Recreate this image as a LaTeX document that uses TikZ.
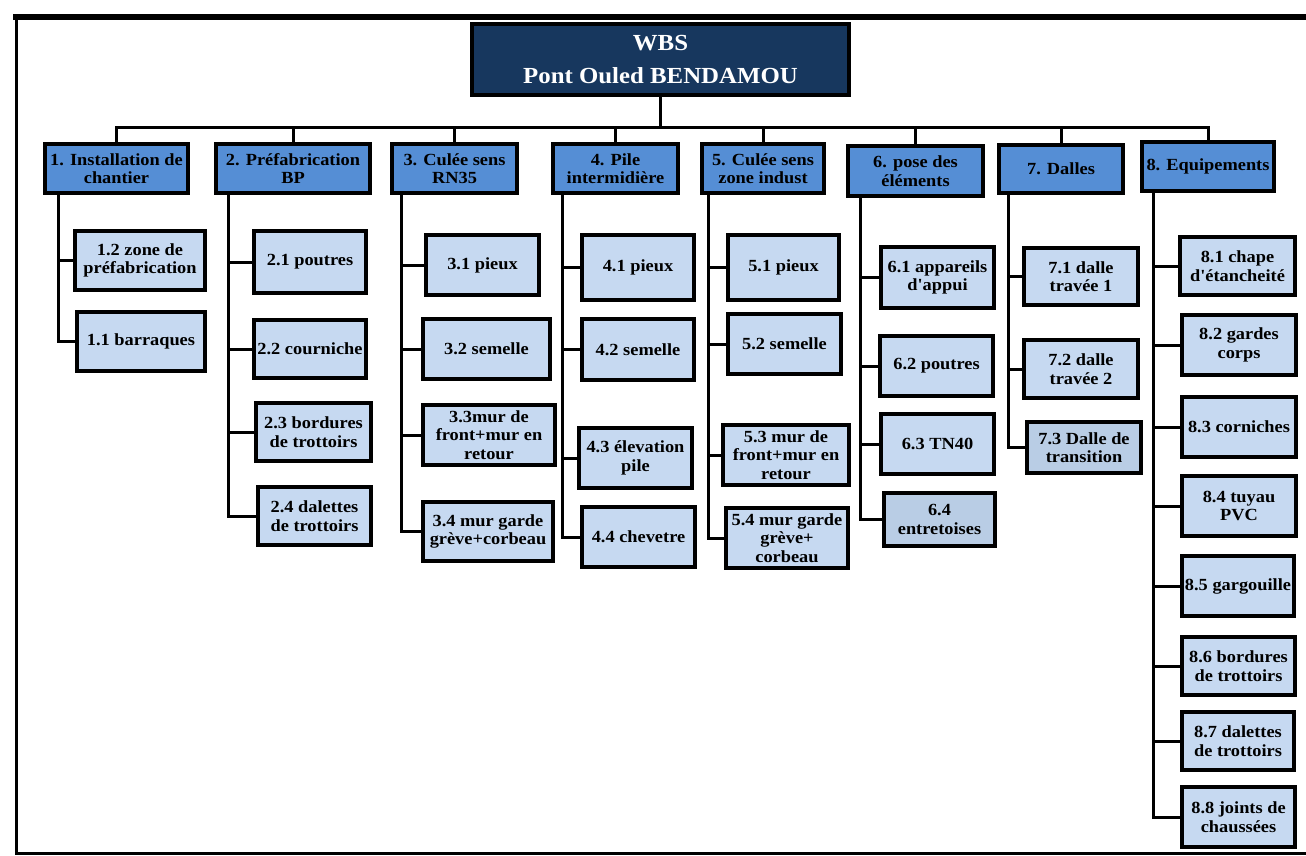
\documentclass[tikz,border=0pt]{standalone}
\usepackage{fontspec}
\usetikzlibrary{shadows}
\setmainfont{Liberation Serif}
\newfontfamily\bxfont[FakeStretch=1.08]{Liberation Serif}
\definecolor{navy}{HTML}{17375E}
\definecolor{hblue}{HTML}{558ED5}
\definecolor{lblue}{HTML}{C6D9F1}
\definecolor{mblue}{HTML}{B9CDE5}
\newcommand\bx[7]{\node[#6, minimum width={(#4-#2-4)*1pt}, minimum height={(#5-#3-4)*1pt}] (#1) at ({(#2+#4)/2},{(#3+#5)/2}) {#7};}
\begin{document}
\begin{tikzpicture}[x=1pt,y=-1pt,
  wbox/.style={draw=black,line width=4pt,inner sep=1pt,align=center,
    drop shadow={shadow xshift=2pt,shadow yshift=-2pt,fill=black!35,opacity=0.5},
    font=\bxfont\bfseries\fontsize{17}{18.5}\selectfont},
  hbox/.style={wbox,fill=hblue},
  lbox/.style={wbox,fill=lblue},
  dbox/.style={wbox,fill=mblue},
  rootbox/.style={wbox,fill=navy,text=white,font=\bxfont\bfseries\fontsize{23}{33}\selectfont},
  link/.style={line width=3pt}]
\useasboundingbox (0,0) rectangle (1306,856);
% frame
\draw[line width=6.5pt] (13,17) -- (1306,17);
\draw[line width=3pt] (16,17) -- (16,853) -- (1306,853);
% root
\bx{wbs}{470}{22}{851}{97}{rootbox}{WBS\\Pont Ouled BENDAMOU}
% headers
\bx{h1}{43}{142}{190}{195}{hbox}{1. Installation de\\chantier}
\bx{h2}{214}{142}{372}{195}{hbox}{2. Préfabrication\\BP}
\bx{h3}{390}{142}{519}{195}{hbox}{3. Culée sens\\RN35}
\bx{h4}{551}{142}{680}{195}{hbox}{4. Pile\\intermidière}
\bx{h5}{700}{142}{826}{195}{hbox}{5. Culée sens\\zone indust}
\bx{h6}{846}{144}{985}{198}{hbox}{6. pose des\\éléments}
\bx{h7}{997}{143}{1125}{195}{hbox}{7. Dalles}
\bx{h8}{1140}{140}{1276}{193}{hbox}{8. Equipements}
% bus
\foreach \h in {h1,h2,h3,h4,h5,h6,h7,h8}
  \draw[link] (wbs.south) -- ++(0,31) -| (\h.north);
% leaves
\bx{c11}{73}{229}{207}{292}{lbox}{1.2 zone de\\préfabrication}
\bx{c12}{75}{310}{207}{373}{lbox}{1.1 barraques}
\bx{c21}{252}{229}{368}{295}{lbox}{2.1 poutres}
\bx{c22}{252}{318}{368}{380}{lbox}{2.2 courniche}
\bx{c23}{254}{401}{373}{463}{lbox}{2.3 bordures\\de trottoirs}
\bx{c24}{256}{485}{373}{547}{lbox}{2.4 dalettes\\de trottoirs}
\bx{c31}{424}{233}{541}{297}{lbox}{3.1 pieux}
\bx{c32}{421}{317}{552}{381}{lbox}{3.2 semelle}
\bx{c33}{421}{403}{557}{467}{lbox}{3.3mur de\\front+mur en\\retour}
\bx{c34}{421}{500}{555}{563}{lbox}{3.4 mur garde\\grève+corbeau}
\bx{c41}{580}{233}{696}{302}{lbox}{4.1 pieux}
\bx{c42}{580}{317}{696}{382}{lbox}{4.2 semelle}
\bx{c43}{577}{426}{694}{490}{lbox}{4.3 élevation\\pile}
\bx{c44}{580}{505}{697}{569}{lbox}{4.4 chevetre}
\bx{c51}{726}{233}{841}{302}{lbox}{5.1 pieux}
\bx{c52}{726}{312}{843}{376}{lbox}{5.2 semelle}
\bx{c53}{721}{423}{851}{487}{lbox}{5.3 mur de\\front+mur en\\retour}
\bx{c54}{724}{506}{850}{570}{lbox}{5.4 mur garde\\grève+\\corbeau}
\bx{c61}{879}{245}{996}{310}{lbox}{6.1 appareils\\d'appui}
\bx{c62}{878}{334}{995}{398}{lbox}{6.2 poutres}
\bx{c63}{879}{412}{996}{476}{lbox}{6.3 TN40}
\bx{c64}{882}{491}{997}{548}{dbox}{6.4\\entretoises}
\bx{c71}{1022}{246}{1140}{307}{lbox}{7.1 dalle\\travée 1}
\bx{c72}{1022}{338}{1140}{400}{lbox}{7.2 dalle\\travée 2}
\bx{c73}{1025}{420}{1143}{475}{dbox}{7.3 Dalle de\\transition}
\bx{c81}{1178}{235}{1297}{297}{lbox}{8.1 chape\\d'étancheité}
\bx{c82}{1180}{313}{1298}{377}{lbox}{8.2 gardes\\corps}
\bx{c83}{1180}{395}{1298}{459}{lbox}{8.3 corniches}
\bx{c84}{1180}{474}{1298}{538}{lbox}{8.4 tuyau\\PVC}
\bx{c85}{1180}{554}{1296}{618}{lbox}{8.5 gargouille}
\bx{c86}{1180}{635}{1297}{697}{lbox}{8.6 bordures\\de trottoirs}
\bx{c87}{1180}{710}{1296}{772}{lbox}{8.7 dalettes\\de trottoirs}
\bx{c88}{1180}{785}{1297}{849}{lbox}{8.8 joints de\\chaussées}
% trunks
\coordinate (t1) at ([xshift=15pt]h1.south west);
\coordinate (t2) at ([xshift=14pt]h2.south west);
\coordinate (t3) at ([xshift=11pt]h3.south west);
\coordinate (t4) at ([xshift=11pt]h4.south west);
\coordinate (t5) at ([xshift=8pt]h5.south west);
\coordinate (t6) at ([xshift=14pt]h6.south west);
\coordinate (t7) at ([xshift=11pt]h7.south west);
\coordinate (t8) at ([xshift=13pt]h8.south west);
\foreach \c in {c11,c12} \draw[link] (t1) |- (\c.west);
\foreach \c in {c21,c22,c23,c24} \draw[link] (t2) |- (\c.west);
\foreach \c in {c31,c32,c33,c34} \draw[link] (t3) |- (\c.west);
\foreach \c in {c41,c42,c43,c44} \draw[link] (t4) |- (\c.west);
\foreach \c in {c51,c52,c53,c54} \draw[link] (t5) |- (\c.west);
\foreach \c in {c61,c62,c63,c64} \draw[link] (t6) |- (\c.west);
\foreach \c in {c71,c72,c73} \draw[link] (t7) |- (\c.west);
\foreach \c in {c81,c82,c83,c84,c85,c86,c87,c88} \draw[link] (t8) |- (\c.west);
\end{tikzpicture}
\end{document}
